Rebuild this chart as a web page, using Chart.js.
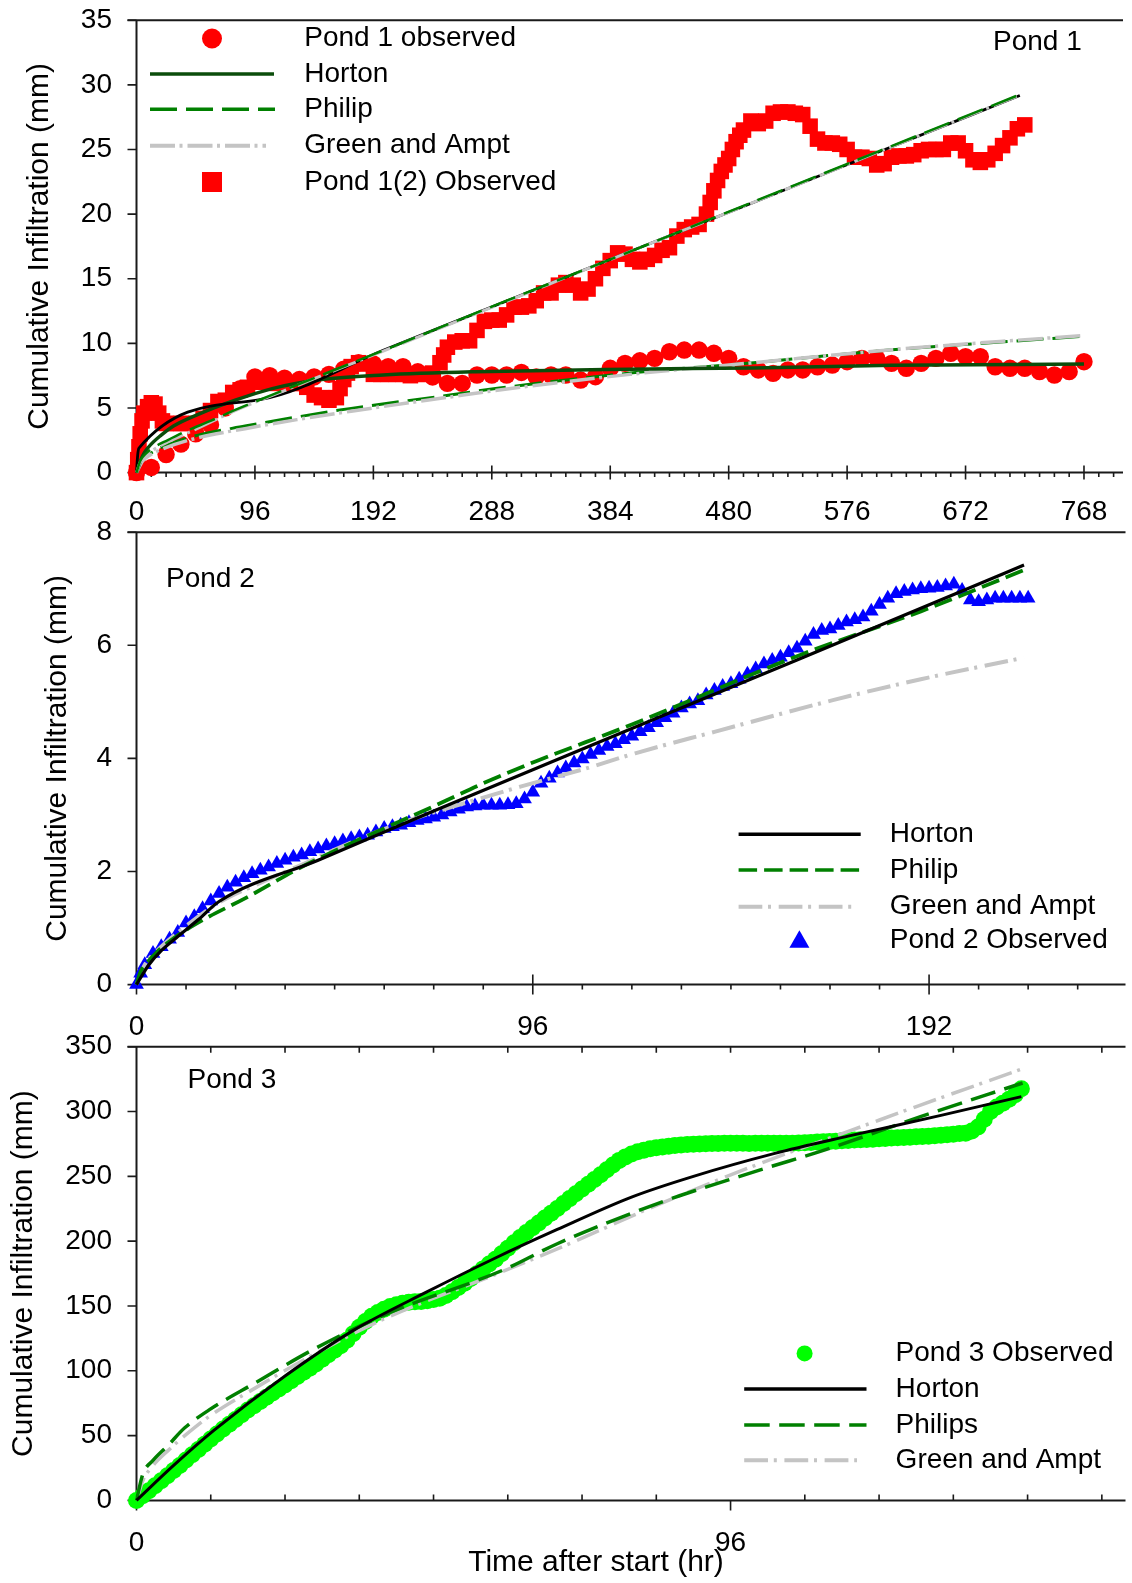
<!DOCTYPE html>
<html>
<head>
<meta charset="utf-8">
<script src="https://cdn.jsdelivr.net/npm/chart.js@4.4.1/dist/chart.umd.min.js"></script>
<style>
  html, body { margin: 0; padding: 0; background: #fff; }
  #page { position: relative; width: 1132px; height: 1583px; overflow: hidden; background: #fff; }
  canvas { position: absolute; left: 0; }
</style>
</head>
<body>
<div id="page">
  <canvas id="pond1" width="1132" height="540" style="top:0px"></canvas>
  <canvas id="pond2" width="1132" height="560" style="top:490px"></canvas>
  <canvas id="pond3" width="1132" height="583" style="top:1000px"></canvas>
</div>
<script>
'use strict';

// ---------- Pond 1 ----------
const xTicks1 = [0, 96, 192, 288, 384, 480, 576, 672, 768];
const yTicks1 = [0, 5, 10, 15, 20, 25, 30, 35];

const pond1Time = steps(0, 768, 12);
const pond1Obs = [0, 0.4, 1.4, 2.2, 3.0, 3.7, 5.0, 6.5, 7.4, 7.5,
    7.3, 7.2, 7.4, 7.6, 8.0, 8.5, 8.4, 8.2, 8.2, 7.8,
    7.4, 6.9, 6.9, 7.55, 7.55, 7.55, 7.75, 7.4, 7.55, 7.55,
    7.16, 7.42, 8.07, 8.45, 8.65, 8.84, 9.35, 9.48, 9.48, 9.23,
    8.84, 8.19, 7.94, 7.68, 7.94, 7.94, 8.19, 8.32, 8.58, 8.84,
    8.84, 8.45, 8.07, 8.45, 8.84, 9.23, 8.97, 8.97, 8.19, 8.07,
    8.07, 7.81, 7.55, 7.81, 8.58];

const pond12Time = [0, 1, 2, 3, 4.5, 6, 9, 12, 15, 18,
    21, 24, 30, 36, 42, 48, 54, 60, 66, 72,
    78, 84, 90, 96, 102, 108, 114, 120, 126, 132,
    138, 144, 150, 156, 162, 165, 168, 171, 174, 180,
    186, 192, 198, 204, 210, 216, 222, 228, 234, 240,
    246, 249, 252, 258, 264, 270, 276, 282, 288, 294,
    300, 306, 312, 318, 324, 330, 336, 342, 348, 354,
    360, 366, 372, 378, 384, 390, 396, 402, 408, 414,
    420, 426, 432, 438, 444, 450, 456, 462, 465, 468,
    471, 474, 477, 480, 483, 486, 489, 492, 498, 504,
    510, 516, 522, 528, 534, 540, 546, 552, 558, 564,
    570, 576, 582, 588, 594, 600, 606, 612, 618, 624,
    630, 636, 642, 648, 654, 660, 666, 672, 678, 684,
    690, 696, 702, 708, 714, 720];
const pond12Obs = [0, 1.0, 2.0, 3.0, 4.0, 4.6, 5.1, 5.4, 5.3, 4.6,
    4.0, 3.8, 3.8, 3.8, 3.8, 3.8, 4.2, 4.8, 5.5, 5.6,
    6.2, 6.4, 6.6, 7.0, 7.0, 7.0, 6.9, 7.0, 6.9, 6.9,
    6.6, 6.0, 5.8, 5.6, 5.8, 6.5, 7.2, 7.7, 8.2, 8.5,
    8.4, 7.6, 7.6, 7.6, 7.6, 7.6, 7.5, 7.6, 7.6, 7.7,
    8.5, 9.1, 9.7, 10.1, 10.2, 10.2, 11.0, 11.7, 11.8, 11.8,
    12.2, 12.8, 12.8, 12.9, 13.3, 13.9, 13.9, 14.5, 14.7, 14.5,
    13.9, 14.2, 15.0, 15.8, 16.4, 17.0, 16.9, 16.5, 16.3, 16.5,
    16.8, 17.2, 17.4, 18.3, 18.8, 19.0, 19.2, 20.0, 20.9, 21.8,
    22.6, 23.3, 23.8, 24.3, 25.0, 25.6, 26.1, 26.5, 27.2, 27.0,
    27.2, 27.8, 27.9, 27.9, 27.8, 27.7, 26.8, 25.8, 25.5, 25.5,
    25.4, 25.0, 24.4, 24.4, 24.3, 23.8, 23.9, 24.4, 24.5, 24.5,
    24.6, 24.9, 25.0, 25.0, 25.0, 25.5, 25.5, 24.9, 24.2, 24.0,
    24.2, 24.7, 25.3, 25.9, 26.6, 26.9];

// fitted curves, pond 1 (circles)
const hortonT1 = [0, 5, 10, 20, 30, 50, 80, 110, 150, 200, 275, 400, 500, 612, 768];
const horton1 = [0, 1.3, 2.0, 2.9, 3.6, 4.5, 5.6, 6.5, 7.2, 7.55, 7.8, 8.0, 8.1, 8.3, 8.4];
const philipT1 = [0, 5, 10, 21.5, 50, 88, 130, 174, 254, 291, 400, 500, 612, 700, 768];
const philip1 = [0, 1.0, 1.4, 2.0, 2.9, 3.6, 4.3, 4.97, 6.0, 6.5, 7.7, 8.5, 9.5, 10.1, 10.55];
const greenAmpt1 = [0, 0.9, 1.3, 1.85, 2.7, 3.4, 4.1, 4.75, 5.85, 6.35, 7.6, 8.5, 9.5, 10.15, 10.6];

// fitted curves, pond 1(2) (squares)
const hortonT12 = [0, 1, 2, 100, 200, 300, 400, 500, 600, 716];
const horton12 = [0, 1.4, 1.9, 5.64, 9.46, 13.28, 17.1, 20.9, 24.74, 29.17];
const philipT12 = [0, 3, 8, 15, 25, 40, 60, 80, 120, 200, 300, 400, 500, 600, 716];
const philip12 = [0, 0.9, 1.5, 2.0, 2.5, 3.2, 4.0, 4.85, 6.4, 9.45, 13.3, 17.1, 20.95, 24.8, 29.25];
const greenAmpt12 = [0, 0.8, 1.35, 1.85, 2.35, 3.0, 3.9, 4.8, 6.35, 9.4, 13.25, 17.1, 20.9, 24.75, 29.2];

// ---------- Pond 2 ----------
const xTicks2 = [0, 96, 192];
const yTicks2 = [0, 2, 4, 6, 8];
const pond2Time = [0, 1].concat(steps(2, 216, 2));
const pond2Obs = [0, 0.2,
    0.35, 0.55, 0.67, 0.8, 0.92, 1.09, 1.2, 1.34, 1.48, 1.61,
    1.72, 1.81, 1.89, 1.96, 2.02, 2.08, 2.14, 2.2, 2.25, 2.29,
    2.35, 2.4, 2.45, 2.49, 2.54, 2.58, 2.61, 2.64, 2.7, 2.76,
    2.79, 2.82, 2.86, 2.9, 2.93, 2.96, 3.0, 3.05, 3.1, 3.14,
    3.16, 3.17, 3.17, 3.17, 3.18, 3.2, 3.28, 3.4, 3.56, 3.65,
    3.74, 3.83, 3.92, 3.99, 4.07, 4.14, 4.21, 4.26, 4.33, 4.39,
    4.47, 4.54, 4.63, 4.72, 4.8, 4.89, 4.96, 5.02, 5.12, 5.2,
    5.27, 5.32, 5.4, 5.49, 5.58, 5.67, 5.73, 5.79, 5.87, 5.95,
    6.07, 6.19, 6.26, 6.29, 6.35, 6.41, 6.45, 6.5, 6.6, 6.72,
    6.83, 6.91, 6.95, 6.98, 7.0, 7.01, 7.02, 7.05, 7.08, 6.97,
    6.8, 6.77, 6.8, 6.83, 6.83, 6.83, 6.83, 6.83];
const hortonT2 = [0, 3, 6, 10, 15, 20, 44, 72, 96, 120, 160, 200, 215];
const horton2 = [0, 0.35, 0.6, 0.85, 1.15, 1.47, 2.2, 3.07, 3.8, 4.53, 5.74, 6.96, 7.42];
const philipT2 = [0, 1, 2.7, 5, 9.6, 16, 26.4, 40.8, 52, 72.8, 84, 96.8, 120, 160.8, 190, 215];
const philip2 = [0, 0.23, 0.4, 0.58, 0.85, 1.14, 1.53, 2.11, 2.5, 3.18, 3.56, 3.95, 4.6, 5.83, 6.6, 7.33];
const greenAmptT2 = [0, 2, 5, 10, 20, 30, 40, 50, 60, 70, 80, 93, 108.8, 120.8, 140, 168.7, 190, 215];
const greenAmpt2 = [0, 0.35, 0.6, 0.92, 1.45, 1.8, 2.12, 2.45, 2.75, 3.0, 3.22, 3.5, 3.82, 4.09, 4.47, 5.03, 5.4, 5.78];

// ---------- Pond 3 ----------
const xTicks3 = [0, 96];
const yTicks3 = [0, 50, 100, 150, 200, 250, 300, 350];
const pond3Time = steps(0, 143, 1);
const pond3Obs = [0, 3.5, 7.5, 11.3, 15.1, 19.0, 23.0, 27.0, 31.1, 35.2,
    39.2, 43.3, 47.3, 51.2, 55.0, 58.8, 62.4, 66.1, 69.7, 73.0,
    76.3, 79.5, 82.8, 86.0, 89.1, 92.3, 95.5, 98.8, 102.0, 105.3,
    108.8, 112.3, 115.8, 119.3, 123.5, 128.5, 133.5, 138.0, 142.0, 145.0,
    147.5, 149.5, 151.0, 152.0, 152.8, 153.2, 153.4, 154.0, 155.0, 155.9,
    158.0, 161.0, 164.2, 167.5, 171.2, 174.9, 178.6, 182.3, 186.0, 190.2,
    194.5, 198.8, 202.8, 206.6, 210.3, 214.0, 217.8, 221.5, 225.2, 229.0,
    232.8, 236.5, 240.2, 243.9, 247.5, 251.3, 255.0, 258.8, 262.3, 265.0,
    267.2, 269.0, 270.2, 271.2, 272.0, 272.7, 273.3, 273.8, 274.2, 274.5,
    274.8, 275.0, 275.2, 275.3, 275.4, 275.5, 275.5, 275.6, 275.5, 275.4,
    275.5, 275.6, 275.5, 275.5, 275.6, 275.5, 275.6, 275.7, 275.9, 276.1,
    276.4, 276.6, 276.8, 277.1, 277.4, 277.7, 278.0, 278.2, 278.5, 278.7,
    279.0, 279.2, 279.5, 279.7, 280.0, 280.2, 280.5, 280.7, 281.0, 281.3,
    281.7, 282.0, 282.5, 283.0, 283.3, 285.0, 288.0, 294.0, 300.0, 303.5,
    306.3, 309.5, 313.0, 317.5];
const hortonT3 = [0, 6, 12.5, 24, 35, 47, 58, 68, 80, 90, 103, 115, 130, 143];
const horton3 = [0, 27, 54, 96, 131, 161, 187, 209, 234, 250, 267.5, 281, 297, 311.5];
const philipT3 = [0, 1, 2.7, 5, 7.8, 11.8, 19.3, 28.4, 40, 59.4, 68, 84.2, 100.8, 111, 126.7, 143.2];
const philip3 = [0, 20, 31, 42, 56, 70, 91, 116, 143, 178, 198, 229, 255, 270, 296, 322];
const greenAmptT3 = [0, 1, 2.7, 5, 7.8, 11.8, 19.3, 28.4, 40, 59.4, 68, 84.2, 100.8, 115.8, 126.7, 143.2];
const greenAmpt3 = [0, 15, 27, 38, 50, 65, 87, 112, 140, 177, 194, 228, 260, 286, 305, 333];

const FONT = '"Liberation Sans", Arial, Helvetica, sans-serif';
Chart.defaults.font.family = FONT;
Chart.defaults.color = '#000';

function steps(start, end, step) {
    let out = [];
    for (let v = start; v <= end + 1e-9; v += step) out.push(v);
    return out;
}

function pairs(xs, ys) {
    return xs.map(function(x, i) { return {x: x, y: ys[i]}; });
}

function curve(xs, ys, color, width, dash) {
    return {
        data: pairs(xs, ys),
        borderColor: color,
        borderWidth: width,
        borderDash: dash || [],
        pointRadius: 0,
        fill: false,
        cubicInterpolationMode: 'monotone',
        clip: false
    };
}

function markers(xs, ys, color, style, radius) {
    return {
        data: pairs(xs, ys),
        showLine: false,
        pointStyle: style,
        pointRadius: radius,
        pointBackgroundColor: color,
        pointBorderColor: color,
        pointBorderWidth: 0,
        clip: false
    };
}

function drawKey(ctx, it, textX) {
    ctx.fillStyle = it.color;
    ctx.strokeStyle = it.color;
    if (it.kind == 'line') {
        ctx.lineWidth = it.width;
        ctx.setLineDash(it.dash || []);
        ctx.beginPath();
        ctx.moveTo(it.x0, it.y);
        ctx.lineTo(it.x1, it.y);
        ctx.stroke();
        ctx.setLineDash([]);
    } else if (it.kind == 'circle') {
        ctx.beginPath();
        ctx.arc(it.x0, it.y, it.size, 0, Math.PI * 2);
        ctx.fill();
    } else if (it.kind == 'square') {
        ctx.fillRect(it.x0 - it.size, it.y - it.size, it.size * 2, it.size * 2);
    } else if (it.kind == 'triangle') {
        let h = it.size * 0.87;
        ctx.beginPath();
        ctx.moveTo(it.x0, it.y - h / 2 - 1);
        ctx.lineTo(it.x0 + it.size / 2, it.y + h / 2 - 1);
        ctx.lineTo(it.x0 - it.size / 2, it.y + h / 2 - 1);
        ctx.closePath();
        ctx.fill();
    }
    ctx.fillStyle = '#000';
    ctx.fillText(it.text, textX, it.y);
}

// axis lines, tick marks, legend and panel text
function decor(o) {
    return {
        id: 'decor',
        beforeDatasetsDraw: function(chart) {
            let ctx = chart.ctx, a = chart.chartArea;
            let xs = chart.scales.x, ys = chart.scales.y;
            ctx.save();
            ctx.strokeStyle = '#1a1a1a';
            ctx.lineWidth = 2;
            ctx.beginPath();
            ctx.moveTo(a.left - 9, a.top);
            ctx.lineTo(a.right + 2, a.top);
            ctx.moveTo(a.left, a.top);
            ctx.lineTo(a.left, a.bottom);
            ctx.moveTo(a.left, a.bottom);
            ctx.lineTo(a.right + 2, a.bottom);
            ctx.stroke();
            ctx.lineWidth = 1.6;
            ctx.beginPath();
            ys.ticks.forEach(function(t) {
                let y = ys.getPixelForValue(t.value);
                ctx.moveTo(a.left - 9, y);
                ctx.lineTo(a.left, y);
            });
            for (let v = 0; v <= xs.max; v += o.minor) {
                let x = xs.getPixelForValue(v);
                let len = v % o.major == 0 ? o.majorLen : o.minorLen;
                ctx.moveTo(x, a.bottom - len[0]);
                ctx.lineTo(x, a.bottom + len[1]);
                if (o.topLen && v > 0) {
                    ctx.moveTo(x, a.top);
                    ctx.lineTo(x, a.top + o.topLen);
                }
            }
            ctx.stroke();
            ctx.restore();
        },
        afterDraw: function(chart) {
            let ctx = chart.ctx;
            ctx.save();
            ctx.textBaseline = 'middle';
            ctx.textAlign = 'left';
            ctx.font = '28px ' + FONT;
            ctx.fillStyle = '#000';
            ctx.fillText(o.label.text, o.label.x, o.label.y);
            o.legend.forEach(function(it) { drawKey(ctx, it, o.textX); });
            if (o.xTitle) {
                ctx.fillStyle = '#000';
                ctx.textAlign = 'center';
                ctx.font = '30px ' + FONT;
                ctx.fillText(o.xTitle.text, o.xTitle.x, o.xTitle.y);
            }
            ctx.restore();
        }
    };
}

function makeChart(id, c) {
    return new Chart(document.getElementById(id), {
        type: 'line',
        data: {datasets: c.datasets},
        options: {
            responsive: false,
            animation: false,
            devicePixelRatio: 1,
            layout: {padding: {top: c.padTop, left: 0, right: 0, bottom: 0}},
            plugins: {legend: {display: false}, tooltip: {enabled: false}},
            scales: {
                x: {
                    type: 'linear', min: 0, max: c.xMax,
                    grid: {display: false, drawTicks: false},
                    border: {display: false},
                    ticks: {padding: c.xPad, autoSkip: false, maxRotation: 0, font: {size: 28}, color: '#000'},
                    afterBuildTicks: function(s) { s.ticks = c.xTicks.map(function(v) { return {value: v}; }); },
                    afterFit: function(s) { s.height = c.xHeight; s.paddingLeft = 0; s.paddingRight = 0; }
                },
                y: {
                    type: 'linear', min: 0, max: c.yMax,
                    grid: {display: false, drawTicks: false},
                    border: {display: false},
                    ticks: {padding: 24.5, autoSkip: false, font: {size: 28}, color: '#000'},
                    afterBuildTicks: function(s) { s.ticks = c.yTicks.map(function(v) { return {value: v}; }); },
                    afterFit: function(s) { s.width = 136.5; s.paddingTop = 0; s.paddingBottom = 0; },
                    title: {
                        display: true, text: 'Cumulative Infiltration (mm)',
                        font: {size: 30}, color: '#000',
                        padding: {top: c.titlePad, bottom: 0}
                    }
                }
            }
        },
        plugins: [decor(c.decor)]
    });
}

const RED = '#ff0000', DKGREEN = '#0b4d0b', GREEN = '#008000', GRAY = '#c4c4c4';

makeChart('pond1', {
    padTop: 20.2, xHeight: 67.4, xPad: 23.2, xMax: 798, yMax: 35, titlePad: 21.6,
    xTicks: xTicks1, yTicks: yTicks1,
    datasets: [
        curve(philipT12, philip12, GREEN, 2.5, [27, 9]),
        curve(philipT12, greenAmpt12, GRAY, 3, [25, 4.5, 3, 5]),
        curve(hortonT12, horton12, '#000', 2.8),
        curve(hortonT1, horton1, DKGREEN, 3.5),
        curve(philipT1, greenAmpt1, GRAY, 3.5, [25, 4.5, 3, 5]),
        curve(philipT1, philip1, GREEN, 3, [27, 9]),
        markers(pond1Time, pond1Obs, RED, 'circle', 8.7),
        markers(pond12Time, pond12Obs, RED, 'rect', 11)
    ],
    decor: {
        minor: 12, major: 96, majorLen: [7, 7], minorLen: [0, 4.5], topLen: 0,
        label: {text: 'Pond 1', x: 993, y: 42.5},
        textX: 304.3,
        legend: [
            {kind: 'circle', color: RED, size: 10, x0: 212, y: 38.5, text: 'Pond 1 observed'},
            {kind: 'line', color: DKGREEN, width: 3.5, x0: 150, x1: 274, y: 74, text: 'Horton'},
            {kind: 'line', color: GREEN, width: 3.5, dash: [27, 9], x0: 150, x1: 275, y: 109.3, text: 'Philip'},
            {kind: 'line', color: GRAY, width: 4, dash: [25, 4.5, 3, 5], x0: 150, x1: 266, y: 145.7, text: 'Green and Ampt'},
            {kind: 'square', color: RED, size: 10, x0: 212, y: 182, text: 'Pond 1(2) Observed'}
        ]
    }
});

makeChart('pond2', {
    padTop: 42.2, xHeight: 65.4, xPad: 26.3, xMax: 239.1, yMax: 8, titlePad: 39.5,
    xTicks: xTicks2, yTicks: yTicks2,
    datasets: [
        curve(hortonT2, horton2, '#000', 3.2),
        curve(philipT2, philip2, GREEN, 3.8, [18.5, 7]),
        curve(greenAmptT2, greenAmpt2, GRAY, 4, [23.7, 5.7, 3, 7.7]),
        markers(pond2Time, pond2Obs, '#0000ff', 'triangle', 8.5)
    ],
    decor: {
        minor: 12, major: 96, majorLen: [10, 10], minorLen: [0, 5], topLen: 0,
        label: {text: 'Pond 2', x: 166, y: 89.2},
        textX: 889.8,
        legend: [
            {kind: 'line', color: '#000', width: 3.5, x0: 738.6, x1: 860.7, y: 344.3, text: 'Horton'},
            {kind: 'line', color: GREEN, width: 3.5, dash: [18.5, 7], x0: 738.6, x1: 860, y: 380, text: 'Philip'},
            {kind: 'line', color: GRAY, width: 4, dash: [23.7, 5.7, 3, 7.7], x0: 738.6, x1: 852, y: 416.7, text: 'Green and Ampt'},
            {kind: 'triangle', color: '#0000ff', size: 20, x0: 799.4, y: 450, text: 'Pond 2 Observed'}
        ]
    }
});

makeChart('pond3', {
    padTop: 46.7, xHeight: 82.6, xPad: 26.1, xMax: 159.5, yMax: 350, titlePad: 5.5,
    xTicks: xTicks3, yTicks: yTicks3,
    datasets: [
        curve(hortonT3, horton3, '#000', 3),
        curve(philipT3, philip3, GREEN, 3.5, [25.5, 9.5]),
        curve(greenAmptT3, greenAmpt3, GRAY, 3.5, [23.8, 5.8, 3, 7.6]),
        markers(pond3Time, pond3Obs, '#00ff00', 'circle', 8.5)
    ],
    decor: {
        minor: 12, major: 96, majorLen: [0, 10], minorLen: [6, 0], topLen: 6,
        label: {text: 'Pond 3', x: 187.5, y: 80.2},
        textX: 895.6,
        xTitle: {text: 'Time after start (hr)', x: 596, y: 563},
        legend: [
            {kind: 'circle', color: '#00ff00', size: 8, x0: 804.6, y: 353.4, text: 'Pond 3 Observed'},
            {kind: 'line', color: '#000', width: 3.5, x0: 744.2, x1: 866.5, y: 389.1, text: 'Horton'},
            {kind: 'line', color: GREEN, width: 3.5, dash: [25.5, 9.5], x0: 744.2, x1: 866.5, y: 425, text: 'Philips'},
            {kind: 'line', color: GRAY, width: 4, dash: [23.8, 5.8, 3, 7.6], x0: 744.2, x1: 857, y: 460.3, text: 'Green and Ampt'}
        ]
    }
});
</script>
</body>
</html>
